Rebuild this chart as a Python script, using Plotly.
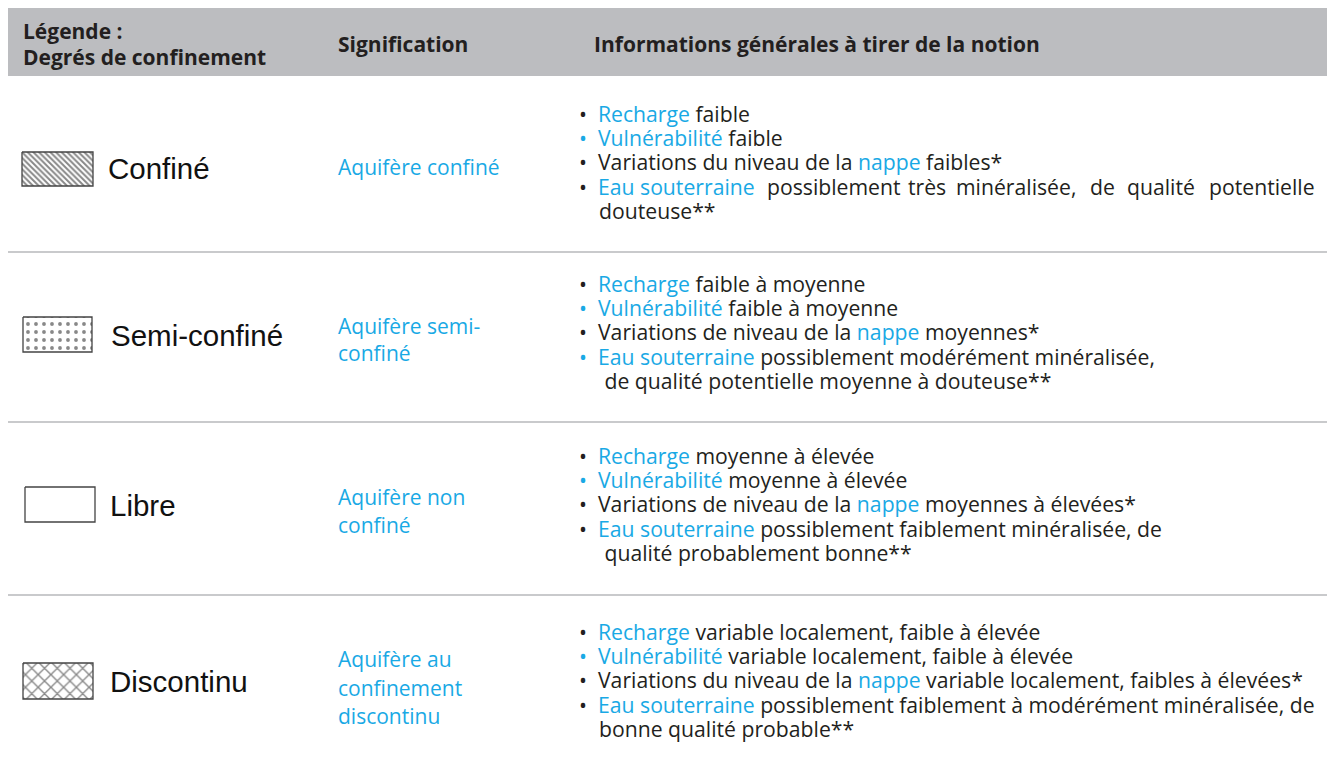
import plotly.graph_objects as go

W, H = 1327, 768
BLUE = "#19a9e5"
DARK = "#231f20"
FONT = "Open Sans"
LEG_FONT = "Liberation Sans"

header_left = ["Légende :", "Degrés de confinement"]
header_cols = ["Signification", "Informations générales à tirer de la notion"]
degrees = ["Confiné", "Semi-confiné", "Libre", "Discontinu"]
patterns = ["\\", ".", "", "x"]
significations = [
    ["Aquifère confiné"],
    ["Aquifère semi-", "confiné"],
    ["Aquifère non", "confiné"],
    ["Aquifère au", "confinement", "discontinu"],
]
# each bullet line: list of (text, is_blue) fragments
info = [
    [
        [("Recharge", 1), (" faible", 0)],
        [("Vulnérabilité", 1), (" faible", 0)],
        [("Variations du niveau de la ", 0), ("nappe", 1), (" faibles*", 0)],
        [("Eau souterraine", 1), (" possiblement très minéralisée, de qualité potentielle", 0)],
        [("douteuse**", 0)],
    ],
    [
        [("Recharge", 1), (" faible à moyenne", 0)],
        [("Vulnérabilité", 1), (" faible à moyenne", 0)],
        [("Variations de niveau de la ", 0), ("nappe", 1), (" moyennes*", 0)],
        [("Eau souterraine", 1), (" possiblement modérément minéralisée,", 0)],
        [(" de qualité potentielle moyenne à douteuse**", 0)],
    ],
    [
        [("Recharge", 1), (" moyenne à élevée", 0)],
        [("Vulnérabilité", 1), (" moyenne à élevée", 0)],
        [("Variations de niveau de la ", 0), ("nappe", 1), (" moyennes à élevées*", 0)],
        [("Eau souterraine", 1), (" possiblement faiblement minéralisée, de", 0)],
        [(" qualité probablement bonne**", 0)],
    ],
    [
        [("Recharge", 1), (" variable localement, faible à élevée", 0)],
        [("Vulnérabilité", 1), (" variable localement, faible à élevée", 0)],
        [("Variations du niveau de la ", 0), ("nappe", 1), (" variable localement, faibles à élevées*", 0)],
        [("Eau souterraine", 1), (" possiblement faiblement à modérément minéralisée, de", 0)],
        [("bonne qualité probable**", 0)],
    ],
]
has_bullet = [True, True, True, True, False]
bullet_blue = [[0, 1, 0, 0], [0, 1, 0, 1], [0, 1, 0, 0], [0, 1, 0, 0]]

# layout geometry (page pixel coordinates)
row_first_line = [113, 283, 455, 631]
line_step = 24.4
sig_centers = [[167], [326, 353], [497, 525], [659, 688, 716]]
legend_center = [168, 335, 505, 681]
box_y = [(152, 186), (317, 352), (487, 522), (663, 699)]
box_x = [(22, 93), (23, 92), (25, 95), (23, 93)]
label_x = [106, 109, 108, 108]
separators = [252, 422, 595]
just_words_x = [599, 765, 906, 954, 1088, 1125, 1317]
BULLET_X = 577
TEXT_X = 597

BODY = 21.2
fig = go.Figure()

fig.add_shape(type="rect", x0=8, x1=1327, y0=8, y1=76, fillcolor="#bcbdc0",
              line=dict(width=0), layer="below")
for y in separators:
    fig.add_shape(type="line", x0=8, x1=1327, y0=y, y1=y,
                  line=dict(color="#c9cacc", width=2))

hdr_font = dict(family=FONT, size=21, color=DARK)
fig.add_annotation(x=21, y=31, text="<b>" + header_left[0] + "</b>", showarrow=False,
                   xanchor="left", yanchor="middle", font=hdr_font)
fig.add_annotation(x=21, y=57, text="<b>" + header_left[1] + "</b>", showarrow=False,
                   xanchor="left", yanchor="middle", font=hdr_font)
fig.add_annotation(x=336, y=44, text="<b>" + header_cols[0] + "</b>", showarrow=False,
                   xanchor="left", yanchor="middle", font=hdr_font)
fig.add_annotation(x=592, y=44, text="<b>" + header_cols[1] + "</b>", showarrow=False,
                   xanchor="left", yanchor="middle", font=hdr_font)

for i, deg in enumerate(degrees):
    x0, x1 = box_x[i]
    y0, y1 = box_y[i]
    pat = patterns[i]
    fp = None
    if pat == "\\":
        fp = dict(shape="\\", size=4, solidity=0.5, fgcolor="#111111", bgcolor="white")
    elif pat == ".":
        fp = dict(shape=".", size=8, solidity=0.18, fgcolor="#111111", bgcolor="white")
    elif pat == "x":
        fp = dict(shape="x", size=9, solidity=0.28, fgcolor="#111111", bgcolor="white")
    trace = dict(x=[x0, x1, x1, x0, x0], y=[y0, y0, y1, y1, y0], mode="lines",
                 fill="toself", fillcolor="white",
                 line=dict(color="#444444", width=1.3), hoverinfo="skip",
                 showlegend=False)
    if fp:
        trace["fillpattern"] = fp
    fig.add_trace(go.Scatter(**trace))
    fig.add_annotation(x=label_x[i], y=legend_center[i], text=deg, showarrow=False,
                       xanchor="left", yanchor="middle",
                       font=dict(family=LEG_FONT, size=29.5, color="#111111"))

for i, lines in enumerate(significations):
    for j, t in enumerate(lines):
        fig.add_annotation(x=336, y=sig_centers[i][j], text=t, showarrow=False,
                           xanchor="left", yanchor="middle",
                           font=dict(family=FONT, size=21, color=BLUE))


def colored(t, b):
    return f'<span style="color:{BLUE}">{t}</span>' if b else t


for i, rows in enumerate(info):
    for j, frags in enumerate(rows):
        y = row_first_line[i] + j * line_step
        bullet = ""
        if has_bullet[j]:
            bullet = colored("•", bullet_blue[i][j]) + "&nbsp;&nbsp;"
        if i == 0 and j == 3:
            words = []
            for t, b in frags:
                if b:
                    words.append((t.strip(), b))
                else:
                    words += [(w, b) for w in t.split()]
            for k, ((w, b), x) in enumerate(zip(words, just_words_x)):
                txt = colored(w, b)
                if k == 0:
                    txt = bullet + txt
                    x = BULLET_X
                fig.add_annotation(x=x, y=y, text=txt, showarrow=False,
                                   xanchor="right" if k == len(words) - 1 else "left",
                                   yanchor="middle",
                                   font=dict(family=FONT, size=BODY, color=DARK))
            continue
        html = ""
        for t, b in frags:
            t2 = t.replace(" ", "&nbsp;", 1) if t.startswith(" ") and html == "" else t
            html += colored(t2, b)
        fig.add_annotation(x=BULLET_X if bullet else TEXT_X, y=y, text=bullet + html,
                           showarrow=False, xanchor="left", yanchor="middle",
                           font=dict(family=FONT, size=BODY, color=DARK))

fig.update_xaxes(range=[0, W], visible=False, fixedrange=True)
fig.update_yaxes(range=[H, 0], visible=False, fixedrange=True)
fig.update_layout(width=W, height=H, margin=dict(l=0, r=0, t=0, b=0),
                  paper_bgcolor="white", plot_bgcolor="white", showlegend=False)

fig.write_html("out.html", config={"displayModeBar": False},
               post_script="document.body.style.margin='0';document.body.style.overflow='hidden';")
